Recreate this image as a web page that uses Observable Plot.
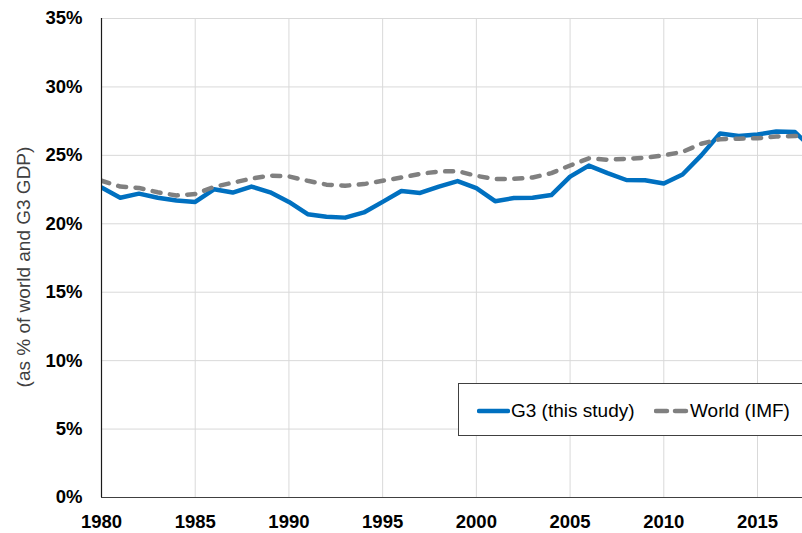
<!DOCTYPE html>
<html>
<head>
<meta charset="utf-8">
<script src="https://cdn.jsdelivr.net/npm/d3@7"></script>
<script src="https://cdn.jsdelivr.net/npm/@observablehq/plot@0.6"></script>
<style>
  html, body { margin: 0; padding: 0; background: #fff; }
  body { width: 802px; height: 533px; overflow: hidden; position: relative; font-family: "Liberation Sans", Arial, sans-serif; }
  #chart { position: absolute; left: 0; top: 0; }
  #ytitle { position: absolute; left: 24px; top: 267px; transform: translate(-50%, -50%) rotate(-90deg); white-space: nowrap; font-size: 19px; color: #404040; }
  #legend { position: absolute; left: 458px; top: 383px; width: 360px; height: 53px; border: 1px solid #404040; background: #fff; box-sizing: border-box; }
  .lg { position: absolute; top: 0; height: 53px; display: flex; align-items: center; font-size: 19px; color: #000; white-space: nowrap; }
  .lg svg { display: block; margin-right: 1px; }
</style>
</head>
<body>
<div id="chart"></div>
<div id="ytitle">(as % of world and G3 GDP)</div>
<div id="legend"></div>
<script>
// ---- data ----
const years = [1980,1981,1982,1983,1984,1985,1986,1987,1988,1989,
               1990,1991,1992,1993,1994,1995,1996,1997,1998,1999,
               2000,2001,2002,2003,2004,2005,2006,2007,2008,2009,
               2010,2011,2012,2013,2014,2015,2016,2017,2018];
const g3 =    [22.65,21.9,22.2,21.9,21.7,21.6,22.52,22.28,22.72,22.3,
               21.6,20.7,20.52,20.45,20.83,21.6,22.4,22.25,22.72,23.12,
               22.6,21.65,21.88,21.9,22.1,23.45,24.25,23.7,23.2,23.18,
               22.95,23.6,25.0,26.6,26.42,26.52,26.75,26.7,25.4];
const world = [23.15,22.72,22.62,22.3,22.07,22.17,22.7,23.0,23.3,23.52,
               23.46,23.14,22.86,22.78,22.9,23.14,23.38,23.65,23.82,23.85,
               23.5,23.28,23.28,23.38,23.7,24.26,24.78,24.68,24.75,24.82,
               25.0,25.25,25.85,26.18,26.22,26.25,26.38,26.42,26.45];
const xTicks = [1980,1985,1990,1995,2000,2005,2010,2015];
const yTicks = [0,5,10,15,20,25,30,35];
const seriesNames = ["G3 (this study)", "World (IMF)"];
const seriesColors = ["#0070C0", "#808080"];

const rows = years.map((y, i) => ({year: y, g3: g3[i], world: world[i]}));

const chart = Plot.plot({
  width: 802,
  height: 533,
  marginLeft: 101,
  marginRight: 0,
  marginTop: 18,
  marginBottom: 36,
  style: {fontFamily: "'Liberation Sans', Arial, sans-serif", fontSize: "18.5px", color: "#000", background: "#fff"},
  x: {domain: [1980, 2017.4]},
  y: {domain: [0, 35]},
  marks: [
    Plot.ruleX(xTicks.slice(1), {stroke: "#d9d9d9", strokeWidth: 1, strokeOpacity: 1}),
    Plot.ruleY(yTicks.slice(1), {stroke: "#d9d9d9", strokeWidth: 1, strokeOpacity: 1}),
    Plot.axisX({ticks: xTicks, tickSize: 0, tickPadding: 17, tickFormat: d => String(d), fontWeight: "bold", label: null}),
    Plot.axisY({ticks: yTicks, tickSize: 0, tickPadding: 19, tickFormat: d => d + "%", fontWeight: "bold", label: null}),
    Plot.line(rows, {x: "year", y: "g3", stroke: seriesColors[0], strokeWidth: 4.5, strokeLinejoin: "round", clip: true}),
    Plot.line(rows, {x: "year", y: "world", stroke: seriesColors[1], strokeWidth: 4.5, strokeDasharray: "8,9.5", strokeLinecap: "round", strokeLinejoin: "round", clip: true}),
    Plot.ruleY([0], {stroke: "#404040", strokeWidth: 1.2}),
    Plot.ruleX([1980], {stroke: "#1a1a1a", strokeWidth: 1.2})
  ]
});
document.getElementById("chart").appendChild(chart);

// ---- legend overlay ----
const legend = document.getElementById("legend");
const items = [
  {name: seriesNames[0], color: seriesColors[0], dash: null, left: 18, w: 33},
  {name: seriesNames[1], color: seriesColors[1], dash: "14,7", left: 195, w: 35}
];
items.forEach(it => {
  const d = document.createElement("div");
  d.className = "lg";
  d.style.left = it.left + "px";
  const ns = "http://www.w3.org/2000/svg";
  const s = document.createElementNS(ns, "svg");
  s.setAttribute("width", it.w);
  s.setAttribute("height", 10);
  const l = document.createElementNS(ns, "line");
  l.setAttribute("x1", 2); l.setAttribute("x2", it.w - 2);
  l.setAttribute("y1", 5); l.setAttribute("y2", 5);
  l.setAttribute("stroke", it.color);
  l.setAttribute("stroke-width", 4.5);
  l.setAttribute("stroke-linecap", "round");
  if (it.dash) l.setAttribute("stroke-dasharray", "11,8");
  s.appendChild(l);
  d.appendChild(s);
  const t = document.createElement("span");
  t.textContent = it.name;
  d.appendChild(t);
  legend.appendChild(d);
});
</script>
</body>
</html>
